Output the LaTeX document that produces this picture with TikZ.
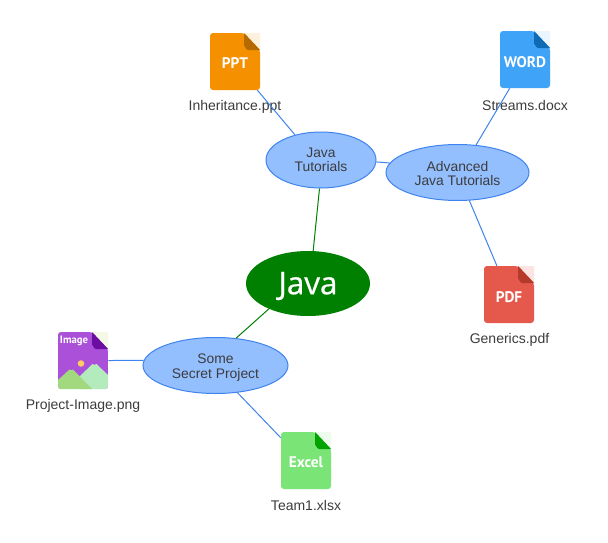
\documentclass[tikz,border=0pt]{standalone}
\usepackage{fontspec}
\setmainfont{Liberation Sans}
\newfontfamily\javafont[FakeBold=0.6]{Open Sans}
\newfontfamily\iconfont{PT Sans}
\usetikzlibrary{shapes.geometric}
\definecolor{nodeblue}{HTML}{94BFFF}
\definecolor{lineblue}{HTML}{3F83EE}
\definecolor{javagreen}{HTML}{008000}
\definecolor{labelgray}{HTML}{3C3C3C}
\definecolor{pptbody}{HTML}{F59000}
\definecolor{pptfold}{HTML}{B56A00}
\definecolor{pptcorner}{HTML}{FDF0DC}
\definecolor{wordbody}{HTML}{3FA3F7}
\definecolor{wordfold}{HTML}{0F6AB4}
\definecolor{wordcorner}{HTML}{EAF5FE}
\definecolor{excelbody}{HTML}{7AE576}
\definecolor{excelfold}{HTML}{00A300}
\definecolor{excelcorner}{HTML}{EDFCEC}
\definecolor{pdfbody}{HTML}{E5594D}
\definecolor{pdffold}{HTML}{B53A2B}
\definecolor{pdfcorner}{HTML}{FBE4E2}
\definecolor{imgbody}{HTML}{AB50D9}
\definecolor{imgfold}{HTML}{6A0DA0}
\definecolor{imgcorner}{HTML}{F4F8E4}
\definecolor{imgsun}{HTML}{FFC966}
\definecolor{imgleft}{HTML}{A3D97E}
\definecolor{imgright}{HTML}{B3EBBD}
\tikzset{
  x=0.75pt,y=-0.75pt,
  topic/.style={ellipse,draw=lineblue,fill=nodeblue,line width=0.75pt,inner sep=0pt,
    minimum width=#1*0.75pt,minimum height=42pt},
  rootnode/.style={ellipse,fill=javagreen,draw=none,inner sep=0pt,minimum width=93pt,minimum height=48.75pt},
  iconbox/.style={rectangle,inner sep=0pt,minimum width=37.5pt,minimum height=42.75pt},
  filelabel/.style={text=labelgray,inner sep=0pt,font=\fontsize{10.5pt}{12pt}\selectfont},
  topictext/.style={inner sep=0pt,align=center,text=labelgray,font=\fontsize{10.4pt}{10.8pt}\selectfont},
  roottext/.style={inner sep=0pt,text=white,font=\javafont\fontsize{23.5pt}{26pt}\selectfont},
  icontext/.style={text=white,inner sep=0pt,font=\iconfont\bfseries\fontsize{#1}{14pt}\selectfont},
  blink/.style={draw=lineblue,line width=0.75pt},
  glink/.style={draw=javagreen,line width=0.75pt}
}
% #1 left, #2 top, #3 body colour, #4 fold colour, #5 corner colour
\newcommand{\filepage}[5]{%
  \fill[#5] (#1+34,#2) -- (#1+50,#2) -- (#1+50,#2+17) -- cycle;
  \fill[#3,rounded corners=2.25pt] (#1,#2) -- (#1+34,#2) -- (#1+50,#2+17) -- (#1+50,#2+57) -- (#1,#2+57) -- cycle;
  \fill[#4] (#1+34,#2) -- (#1+50,#2+17) -- (#1+38,#2+17) to[out=180,in=90] (#1+34,#2+13) -- cycle;
}
\begin{document}
\begin{tikzpicture}
\useasboundingbox[fill=white] (0,0) rectangle (608,543);

% file pages
\filepage{210}{33}{pptbody}{pptfold}{pptcorner}
\filepage{500}{31}{wordbody}{wordfold}{wordcorner}
\filepage{484}{266}{pdfbody}{pdffold}{pdfcorner}
\filepage{281}{432}{excelbody}{excelfold}{excelcorner}

% image page
\fill[imgcorner] (92,332) -- (108,332) -- (108,349) -- cycle;
\begin{scope}
  \clip[rounded corners=2.25pt] (58,332) -- (92,332) -- (108,349) -- (108,389) -- (58,389) -- cycle;
  \fill[imgbody] (58,332) rectangle (108,389);
  \fill[imgright] (80,376) -- (92.5,364) to[out=-45,in=-135] (96.5,364) -- (108,375) -- (108,389) -- (80,389) -- cycle;
  \fill[imgleft] (58,380) -- (69.5,369.5) to[out=-45,in=-135] (73,369.5) -- (92,389) -- (58,389) -- cycle;
\end{scope}
\fill[imgfold] (92,332) -- (108,349) -- (96,349) to[out=180,in=90] (92,345) -- cycle;
\fill[imgsun] (81,363.5) circle[radius=3.3];

% icon boxes used as connector ends
\node[iconbox] (ppt) at (235,61.5) {};
\node[iconbox] (word) at (525,59.5) {};
\node[iconbox] (pdf) at (509,294.5) {};
\node[iconbox] (excel) at (306,460.5) {};
\node[iconbox] (image) at (83,360.5) {};

% icon texts
\node[icontext=11.5pt] (ppttext) at (235,63.5) {PPT};
\node[icontext=11.5pt] (wordtext) at (525,62) {WORD};
\node[icontext=11.5pt] (pdftext) at (509,297) {PDF};
\node[icontext=11.5pt] (exceltext) at (306,462.5) {Excel};
\node[icontext=8pt] (imagetext) at (74,341) {Image};

% topics
\node[rootnode] (java) at (308,283.5) {};
\node[topic=110] (tut) at (321,160) {};
\node[topic=143] (adv) at (457.5,172.5) {};
\node[topic=145] (secret) at (215.5,365.5) {};
\node[roottext] (javatext) at (308,286) {Java};
\node[topictext] (tuttext) at (321,160) {Java\\Tutorials};
\node[topictext] (advtext) at (457.5,173.5) {Advanced\\Java Tutorials};
\node[topictext] (secrettext) at (215.5,367.5) {Some\\Secret Project};

% file labels
\node[filelabel] (ppttitle) at (235,106.5) {Inheritance.ppt};
\node[filelabel] (wordtitle) at (525,105) {Streams.docx};
\node[filelabel] (pdftitle) at (509.5,339.5) {Generics.pdf};
\node[filelabel] (exceltitle) at (306,505.5) {Team1.xlsx};
\node[filelabel] (imagetitle) at (83,405.5) {Project-Image.png};

% connectors
\draw[glink] (java.81.6) -- (tut.-93.5);
\draw[glink] (java.-147.7) -- (secret.53.3);
\draw[blink] (tut.-2.8) -- (adv.172.9);
\draw[blink] (tut.136) -- (ppt.-52.7);
\draw[blink] (adv.56) -- (word.-118.2);
\draw[blink] (adv) -- (pdf);
\draw[blink] (secret.176.8) -- (image.0);
\draw[blink] (secret.-51.5) -- (excel.138);
\end{tikzpicture}
\end{document}
